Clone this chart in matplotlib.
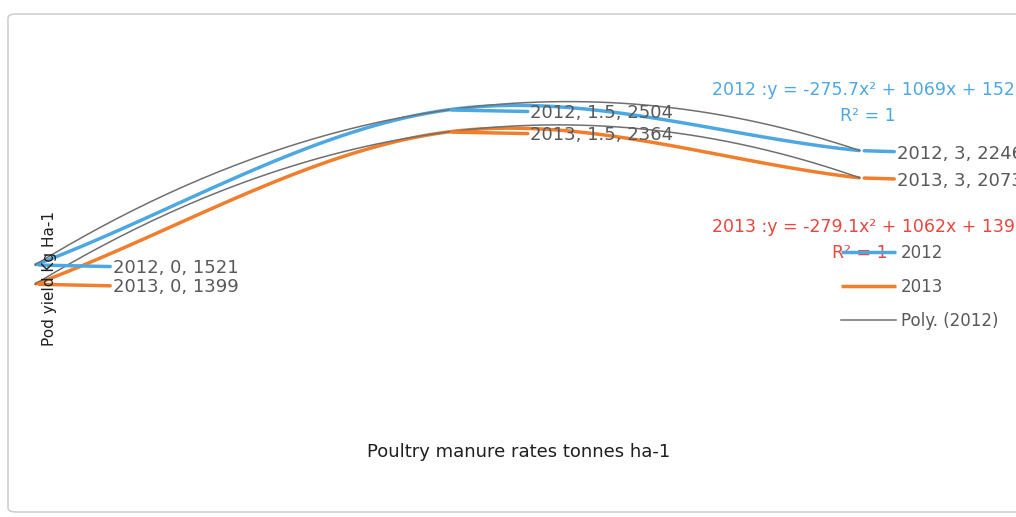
import numpy as np
import matplotlib.pyplot as plt
from matplotlib.patches import FancyBboxPatch

# data
rates = [0, 1.5, 3]
yield_2012 = [1521, 2504, 2246]
yield_2013 = [1399, 2364, 2073]
series_names = ['2012', '2013']
eq_2012 = '2012 :y = -275.7x² + 1069x + 1521'
eq_2013 = '2013 :y = -279.1x² + 1062x + 1399'
r2_text = 'R² = 1'

plt.rcParams['font.family'] = ['DejaVu Sans']

blue = '#4DA8E2'
orange = '#F07E2C'
grey = '#707070'
label_c = '#595959'
red = '#E8463E'

W, H = 1016, 517
fig = plt.figure(figsize=(W / 100, H / 100), dpi=100)
ax = fig.add_axes([0, 0, 1, 1])
ax.set_xlim(-0.127, 3.567)
ax.set_ylim(-77, 3201)
ax.axis('off')

# chart border
fig.patches.append(FancyBboxPatch((8 / W, 5 / H), 1.02, 1 - 19 / H,
                                  boxstyle='round,pad=0,rounding_size=0.008',
                                  transform=fig.transFigure, fc='none',
                                  ec='#D0D0D0', lw=1.2))


def excel_smooth(xs, ys, n=40):
    # smoothed line: catmull-rom bezier segments in screen space
    pts = ax.transData.transform(np.column_stack([xs, ys]))
    m = len(pts)
    ext = np.vstack([2 * pts[0] - pts[1], pts, 2 * pts[-1] - pts[-2]])
    out = [pts[0]]
    t = np.linspace(0, 1, n)[1:, None]
    for i in range(m - 1):
        p0, p1, p2, p3 = ext[i], ext[i + 1], ext[i + 2], ext[i + 3]
        c1 = p1 + (p2 - p0) / 6
        c2 = p2 - (p3 - p1) / 6
        seg = (1 - t) ** 3 * p1 + 3 * (1 - t) ** 2 * t * c1 + 3 * (1 - t) * t ** 2 * c2 + t ** 3 * p2
        out.extend(seg)
    out = ax.transData.inverted().transform(np.array(out))
    return out[:, 0], out[:, 1]


handles = []
for name, ys, c in zip(series_names, [yield_2012, yield_2013], [blue, orange]):
    sx, sy = excel_smooth(rates, ys)
    h, = ax.plot(sx, sy, color=c, lw=2.5, solid_capstyle='butt', zorder=3)
    handles.append(h)

# polynomial trendlines
xx = np.linspace(rates[0], rates[-1], 200)
for ys in [yield_2012, yield_2013]:
    coef = np.polyfit(rates, ys, 2)
    tl, = ax.plot(xx, np.polyval(coef, xx), color=grey, lw=1.1, zorder=4)
handles.append(tl)

# data labels with leader lines
offsets = [78, 83, 37]
for name, ys, c in zip(series_names, [yield_2012, yield_2013], [blue, orange]):
    for x, y, dx in zip(rates, ys, offsets):
        ax.annotate(f'{name}, {x:g}, {y}', xy=(x, y), xytext=(dx, -3),
                    textcoords='offset pixels', va='center', ha='left',
                    fontsize=13, color=label_c,
                    arrowprops=dict(arrowstyle='-', color=c, lw=2.5,
                                    shrinkA=0, shrinkB=3),
                    annotation_clip=False, zorder=5)

# trendline equations
fig.text(712 / W, 1 - 90 / H, eq_2012, color=blue, fontsize=12.5, va='center', ha='left')
fig.text(868 / W, 1 - 116 / H, r2_text, color=blue, fontsize=12.5, va='center', ha='center')
fig.text(712 / W, 1 - 227 / H, eq_2013, color=red, fontsize=12.5, va='center', ha='left')
fig.text(860 / W, 1 - 253 / H, r2_text, color=red, fontsize=12.5, va='center', ha='center')

leg = fig.legend(handles, ['2012', '2013', 'Poly. (2012)'], loc='upper left',
                 bbox_to_anchor=(826 / W, 1 - 229 / H), frameon=False,
                 fontsize=12, labelspacing=0.95, handlelength=3.3,
                 handletextpad=0.3, labelcolor=label_c)

# axis titles
fig.text(50 / W, 1 - 278 / H, 'Pod yield Kg Ha-1', rotation=90, ha='center',
         va='center', fontsize=11, color='#1f1f1f')
fig.text(519 / W, 1 - 452 / H, 'Poultry manure rates tonnes ha-1', ha='center',
         va='center', fontsize=13, color='#1f1f1f')

fig.savefig('out.png', dpi=100)
